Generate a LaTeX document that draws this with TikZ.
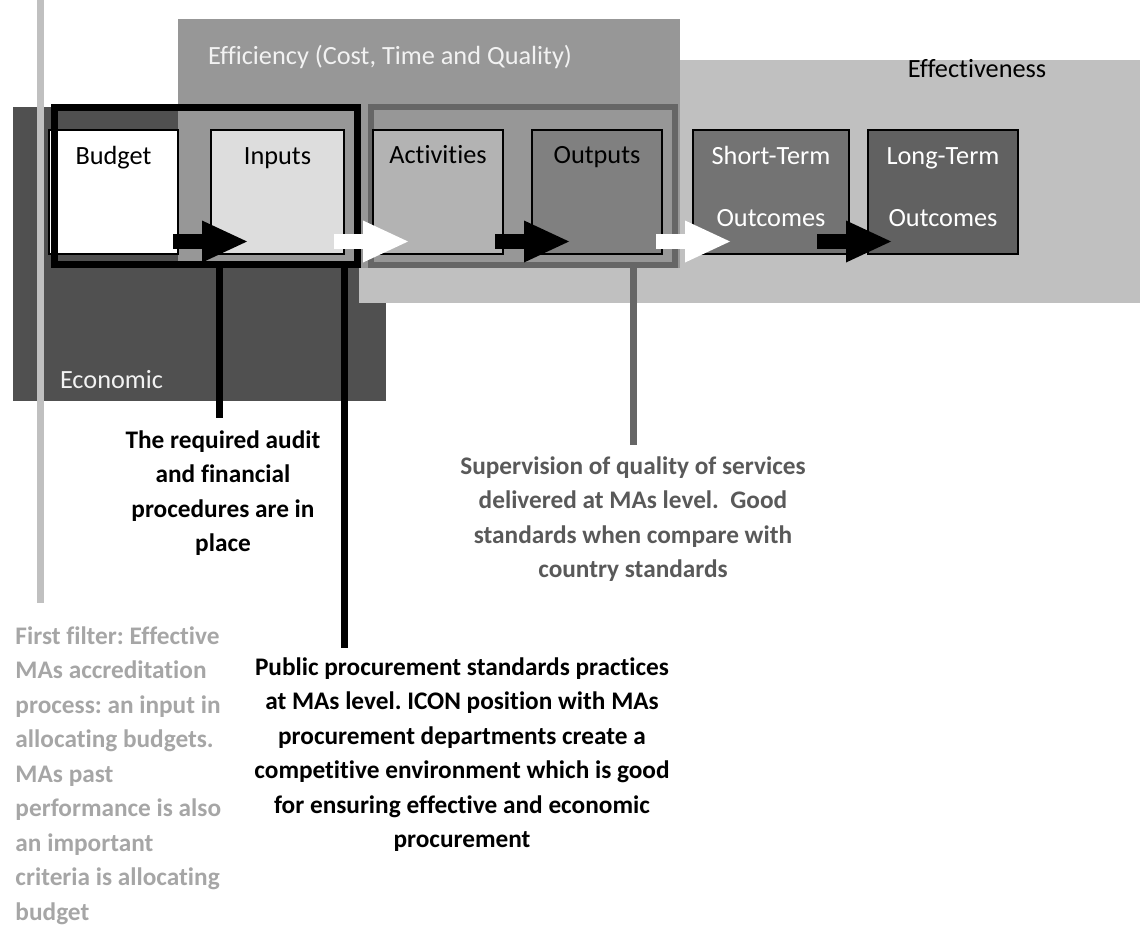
\documentclass[tikz,border=0pt]{standalone}
\usepackage{fontspec}
\setmainfont{Carlito}[Ligatures={NoCommon}]
\usetikzlibrary{arrows.meta,calc}
\definecolor{econc}{HTML}{505050}
\definecolor{effvc}{HTML}{C0C0C0}
\definecolor{effcc}{HTML}{979797}
\definecolor{inpc}{HTML}{DDDDDD}
\definecolor{actc}{HTML}{B3B3B3}
\definecolor{outc}{HTML}{808080}
\definecolor{shortc}{HTML}{737373}
\definecolor{longc}{HTML}{616161}
\definecolor{framec}{HTML}{666666}
\definecolor{supc}{HTML}{595959}
\definecolor{filtc}{HTML}{A6A6A6}
\definecolor{lblw}{HTML}{F2F2F2}
\frenchspacing
\newcommand{\firstl}{\rule{0pt}{20pt}}
\begin{document}
\begin{tikzpicture}[x=1pt,y=-1pt,
  lbl/.style={font=\fontsize{26.3}{30}\selectfont, inner sep=0pt, outer sep=0pt, anchor=base},
  note/.style={font=\bfseries\fontsize{25.3}{34.5}\selectfont, inner sep=0pt, outer sep=0pt, align=center, anchor=north},
  box/.style={draw=black, line width=1.2pt, minimum width=130pt, minimum height=124pt, anchor=north west, inner sep=0pt, outer sep=0pt},
  frm/.style={draw, anchor=north west, inner sep=0pt, outer sep=0pt},
  conn/.style={line width=7pt},
  blk/.style={line width=15pt, -{Triangle[length=45pt,width=42pt,line width=0pt]}},
]
\useasboundingbox (0,0) rectangle (1140,926);
% areas
\fill[econc] (13,107) rectangle (386,401);
\fill[effvc] (359,60) rectangle (1140,303);
\fill[effcc] (178,19) rectangle (680,268);
\node[lbl, anchor=base west, text=lblw] (efflbl) at (208,64) {Efficiency (Cost, Time and Quality)};
\node[lbl, text=black] (effvlbl) at (977,77) {Effectiveness};
\node[lbl, anchor=base west, text=lblw] (econlbl) at (60,388) {Economic};
% light gray line
\draw[effvc, line width=7pt] (40.5,0) -- (40.5,603);
% frame 2
\node[frm, framec, line width=6pt, minimum width=304pt, minimum height=158pt] (frame2) at (371,107) {};
% boxes
\node[box, fill=white, minimum width=129pt] (budget) at (49,130) {};
\node[box, fill=inpc, minimum width=133pt] (inputs) at (211,130) {};
\node[box, fill=actc] (activities) at (373,130) {};
\node[box, fill=outc] (outputs) at (532,130) {};
\node[box, fill=shortc, minimum width=156pt] (short) at (693,130) {};
\node[box, fill=longc, minimum width=150pt] (long) at (868,130) {};
\node[lbl] at ([yshift=-34pt]budget.north) {Budget};
\node[lbl] at ([yshift=-34pt]inputs.north) {Inputs};
\node[lbl] at ([yshift=-33.5pt]activities.north) {Activities};
\node[lbl] at ([yshift=-33.5pt]outputs.north) {Outputs};
\node[lbl, text=white] at ([yshift=-34pt]short.north) {Short-Term};
\node[lbl, text=white] at ([yshift=-96pt]short.north) {Outcomes};
\node[lbl, text=white] at ([yshift=-34pt]long.north) {Long-Term};
\node[lbl, text=white] at ([yshift=-96pt]long.north) {Outcomes};
% frame 1
\node[frm, black, line width=7pt, minimum width=303pt, minimum height=157pt] (frame1) at (54.5,107.5) {};
% notes
\node[note] (audit) at (223,428) {\firstl The required audit\\and financial\\procedures are in\\place};
\node[note, text=supc] (super) at (633,454) {\firstl Supervision of quality of services\\delivered at MAs level.\ \ Good\\standards when compare with\\country standards};
\node[note] (public) at (462,655) {\firstl Public procurement standards practices\\at MAs level. ICON position with MAs\\procurement departments create a\\competitive environment which is good\\for ensuring effective and economic\\procurement};
\node[note, anchor=north west, align=left, text=filtc] (filter) at (15.5,624) {\firstl First filter: Effective\\MAs accreditation\\process: an input in\\allocating budgets.\\MAs past\\performance is also\\an important\\criteria is allocating\\budget};
% connectors
\coordinate (auditend) at (219.5,418);
\coordinate (publicend) at (344,648);
\coordinate (superend) at (633.5,445);
\draw[conn, black] ([xshift=8.5pt]inputs.south west |- frame1.south) -- (auditend);
\draw[conn, black] (inputs.south east |- frame1.south) -- (publicend);
\draw[conn, framec] ([xshift=-28.5pt]outputs.south east |- frame2.south) -- (superend);
% block arrows
\draw[blk, black] ([xshift=-5pt,yshift=12.5pt]budget.south east) -- ([xshift=36pt,yshift=12.5pt]inputs.south west);
\draw[blk, white] ([xshift=-10pt,yshift=12.5pt]inputs.south east) -- ([xshift=35pt,yshift=12.5pt]activities.south west);
\draw[blk, black] ([xshift=-8pt,yshift=12.5pt]activities.south east) -- ([xshift=37pt,yshift=12.5pt]outputs.south west);
\draw[blk, white] ([xshift=-6pt,yshift=12.5pt]outputs.south east) -- ([xshift=37pt,yshift=12.5pt]short.south west);
\draw[blk, black] ([xshift=-32pt,yshift=12.5pt]short.south east) -- ([xshift=23pt,yshift=12.5pt]long.south west);
\end{tikzpicture}
\end{document}
